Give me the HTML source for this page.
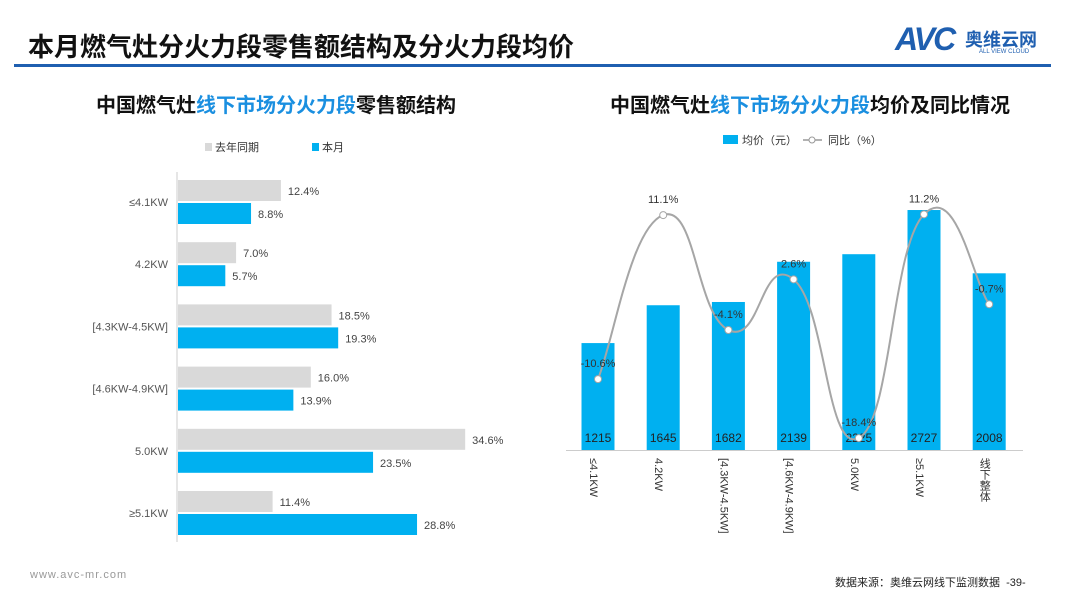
<!DOCTYPE html>
<html><head><meta charset="utf-8">
<style>
body{margin:0;width:1080px;height:608px;background:#fff;font-family:"Liberation Sans","Noto Sans CJK SC",sans-serif;position:relative;overflow:hidden}
.abs{position:absolute}
</style></head><body>
<div class="abs" style="left:28px;top:27px;font-size:26px;font-weight:bold;color:#111;white-space:nowrap">本月燃气灶分火力段零售额结构及分火力段均价</div>
<div class="abs" style="left:14px;top:64px;width:1037px;height:3px;background:#1f5fb0"></div>
<div class="abs" style="left:895px;top:24px;width:160px;height:36px">
 <span style="position:absolute;left:0;top:-3px;font-size:32px;font-weight:bold;font-style:italic;color:#1f5fb0;letter-spacing:-2px">AVC</span>
 <span style="position:absolute;left:70px;top:2px;font-size:18px;font-weight:bold;color:#1f5fb0;white-space:nowrap">奥维云网</span>
 <span style="position:absolute;left:84px;top:25px;font-size:6px;color:#1f5fb0;white-space:nowrap">ALL VIEW CLOUD</span>
</div>
<div class="abs" style="left:96px;top:89px;font-size:20px;font-weight:bold;color:#111;white-space:nowrap">中国燃气灶<span style="color:#1a8fe0">线下市场分火力段</span>零售额结构</div>
<div class="abs" style="left:610px;top:89px;font-size:20px;font-weight:bold;color:#111;white-space:nowrap">中国燃气灶<span style="color:#1a8fe0">线下市场分火力段</span>均价及同比情况</div>
<svg class="abs" style="left:0;top:0" width="1080" height="608" id="svg"></svg>
<div class="abs" style="left:30px;top:569px;font-size:11px;color:#999;letter-spacing:1px">www.avc-mr.com</div>
<div class="abs" style="left:835px;top:574px;font-size:11px;color:#222;white-space:nowrap">数据来源：奥维云网线下监测数据 &nbsp;-39-</div>
<script>
const leftCats=["≤4.1KW","4.2KW","[4.3KW-4.5KW]","[4.6KW-4.9KW]","5.0KW","≥5.1KW"];
const lastYear=[12.4,7.0,18.5,16.0,34.6,11.4];
const thisMonth=[8.8,5.7,19.3,13.9,23.5,28.8];
const rightCats=["≤4.1KW","4.2KW","[4.3KW-4.5KW]","[4.6KW-4.9KW]","5.0KW","≥5.1KW","线下整体"];
const avgPrice=[1215,1645,1682,2139,2225,2727,2008];
const yoy=[-10.6,11.1,-4.1,2.6,-18.4,11.2,-0.7];
const NS="http://www.w3.org/2000/svg";
const svg=document.getElementById('svg');
function mk(t,a,txt){const e=document.createElementNS(NS,t);for(const k in a)e.setAttribute(k,a[k]);if(txt!=null)e.textContent=txt;svg.appendChild(e);return e;}
const F='"Liberation Sans","Noto Sans CJK SC",sans-serif';
const lx0=177,lsc=8.3;
const lxs=v=>lx0+v*lsc;
let e=mk('line',{x1:lx0,y1:172,x2:lx0,y2:542,stroke:'#ccc'});

e=mk('rect',{x:205,y:143,width:7,height:8,fill:'#d9d9d9'});

e=mk('text',{x:215,y:151,'font-size':11,fill:'#333','font-family':F},'去年同期');

e=mk('rect',{x:312,y:143,width:7,height:8,fill:'#00b0f0'});

e=mk('text',{x:322,y:151,'font-size':11,fill:'#333','font-family':F},'本月');

leftCats.forEach((c,i)=>{
 const gy=180+i*62.2;
 let t=mk('text',{x:168,y:gy+26,'font-size':11,fill:'#555','text-anchor':'end','font-family':F},c);
 
 let r=mk('rect',{x:lx0+1,y:gy,width:lxs(lastYear[i])-lx0,height:21,fill:'#d9d9d9'});
 
 t=mk('text',{x:lxs(lastYear[i])+8,y:gy+15,'font-size':11,fill:'#444','font-family':F},lastYear[i].toFixed(1)+'%');
 
 r=mk('rect',{x:lx0+1,y:gy+23,width:lxs(thisMonth[i])-lx0,height:21,fill:'#00b0f0'});
 
 t=mk('text',{x:lxs(thisMonth[i])+8,y:gy+38,'font-size':11,fill:'#444','font-family':F},thisMonth[i].toFixed(1)+'%');
 
});
const base=450,psc=0.088,cx0=598,step=65.2;
const py=v=>base-v*psc;
const ly=v=>299-v*7.56;
e=mk('rect',{x:723,y:135,width:15,height:9,fill:'#00b0f0'});

e=mk('text',{x:742,y:144,'font-size':11,fill:'#333','font-family':F},'均价（元）');

e=mk('line',{x1:803,y1:140,x2:822,y2:140,stroke:'#999','stroke-width':1.5});

e=mk('circle',{cx:812,cy:140,r:3,fill:'#fff',stroke:'#999'});

e=mk('text',{x:828,y:144,'font-size':11,fill:'#333','font-family':F},'同比（%）');

rightCats.forEach((c,i)=>{
 const cx=cx0+i*step;
 let r=mk('rect',{x:cx-16.5,y:py(avgPrice[i]),width:33,height:base-py(avgPrice[i]),fill:'#00b0f0'});
 
 let t=mk('text',{x:cx,y:442,'font-size':12,fill:'#222','text-anchor':'middle','font-family':F},String(avgPrice[i]));
 
 t=mk('text',{x:cx-5,y:458,'font-size':11,fill:'#333','font-family':F,'writing-mode':'tb'},c);
 
});
e=mk('line',{x1:566,y1:450.5,x2:1023,y2:450.5,stroke:'#ccc'});

const pts=yoy.map((v,i)=>[cx0+i*step,ly(v)]);
let d=`M${pts[0][0]},${pts[0][1]}`;
for(let i=0;i<pts.length-1;i++){
 const p0=pts[Math.max(i-1,0)],p1=pts[i],p2=pts[i+1],p3=pts[Math.min(i+2,pts.length-1)];
 const k=0.25;
 d+=` C${p1[0]+(p2[0]-p0[0])*k},${p1[1]+(p2[1]-p0[1])*k} ${p2[0]-(p3[0]-p1[0])*k},${p2[1]-(p3[1]-p1[1])*k} ${p2[0]},${p2[1]}`;
}
e=mk('path',{d:d,fill:'none',stroke:'#a6a6a6','stroke-width':2});

pts.forEach((p,i)=>{
 let c=mk('circle',{cx:p[0],cy:p[1],r:3.5,fill:'#fff',stroke:'#a6a6a6'});
 
 let t=mk('text',{x:p[0],y:p[1]-12,'font-size':11,fill:'#333','text-anchor':'middle','font-family':F},yoy[i].toFixed(1)+'%');
 
});
</script>
</body></html>
